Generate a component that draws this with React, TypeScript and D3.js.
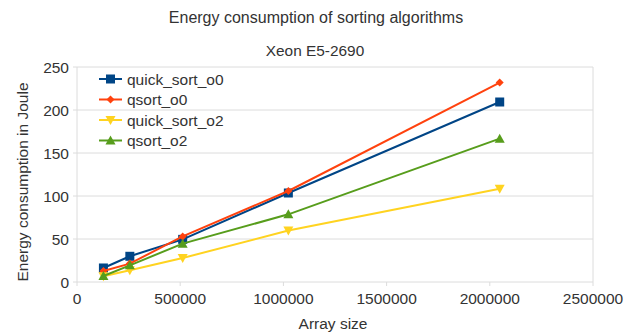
import React from "react";
import * as d3 from "d3";

const arraySizes = [128000, 256000, 512000, 1024000, 2048000];
const quickSortO0 = [16.3, 29.9, 49.6, 103.5, 209.3];
const qsortO0 = [12.8, 21.4, 53, 105.8, 231.9];
const quickSortO2 = [6.6, 13.6, 27.9, 59.8, 108.5];
const qsortO2 = [7, 19.4, 44.6, 78.7, 166.7];
const xTicks = [0, 500000, 1000000, 1500000, 2000000, 2500000];
const yTicks = [0, 50, 100, 150, 200, 250];

const seriesNames = ["quick_sort_o0", "qsort_o0", "quick_sort_o2", "qsort_o2"];
const seriesColors = ["#004586", "#ff420e", "#ffd320", "#579d1c"];
const seriesValues = [quickSortO0, qsortO0, quickSortO2, qsortO2];
const seriesMarkers = ["square", "diamond", "down", "up"];

const W = 634;
const H = 333;
const M = { left: 77, right: 593, top: 67, bottom: 282 };
const FONT = "'Liberation Sans', Arial, sans-serif";
const TEXT = "#333";

function Marker({ kind, x, y, color }: { kind: string; x: number; y: number; color: string }) {
  if (kind === "square") return <rect x={x - 4.5} y={y - 4.5} width={9} height={9} fill={color} />;
  if (kind === "diamond")
    return <path d={`M${x},${y - 4}L${x + 4},${y}L${x},${y + 4}L${x - 4},${y}Z`} fill={color} />;
  if (kind === "down")
    return <path d={`M${x - 5},${y - 4}L${x + 5},${y - 4}L${x},${y + 5}Z`} fill={color} />;
  return <path d={`M${x - 5},${y + 4}L${x + 5},${y + 4}L${x},${y - 5}Z`} fill={color} />;
}

export default function App() {
  const x = d3.scaleLinear().domain([0, 2500000]).range([M.left, M.right]);
  const y = d3.scaleLinear().domain([0, 250]).range([M.bottom, M.top]);
  const line = d3
    .line<number>()
    .x((_, i) => x(arraySizes[i]))
    .y((d) => y(d));

  return (
    <svg
      width={W}
      height={H}
      style={{ position: "absolute", left: 0, top: 0, background: "#fff" }}
      fontFamily={FONT}
    >
      <rect width={W} height={H} fill="#fff" />
      <text x={316} y={23} textAnchor="middle" fontSize={16} fill={TEXT}>
        Energy consumption of sorting algorithms
      </text>
      <text x={315} y={55.5} textAnchor="middle" fontSize={15.4} fill={TEXT}>
        Xeon E5-2690
      </text>

      {yTicks.map((t) => (
        <g key={`y${t}`}>
          <line x1={M.left} x2={M.right} y1={y(t)} y2={y(t)} stroke="#dcdcdc" strokeWidth={1} />
          <line x1={M.left - 4} x2={M.left} y1={y(t)} y2={y(t)} stroke="#dcdcdc" />
          <text x={M.left - 8} y={y(t) + 5.5} textAnchor="end" fontSize={15.5} fill={TEXT}>
            {t}
          </text>
        </g>
      ))}
      <line x1={M.left} x2={M.left} y1={M.top} y2={M.bottom} stroke="#dcdcdc" />
      <line x1={M.right} x2={M.right} y1={M.top} y2={M.bottom} stroke="#dcdcdc" />
      {xTicks.map((t) => (
        <g key={`x${t}`}>
          <line x1={x(t)} x2={x(t)} y1={M.bottom} y2={M.bottom + 4} stroke="#dcdcdc" />
          <text x={x(t)} y={M.bottom + 21.5} textAnchor="middle" fontSize={15.5} fill={TEXT}>
            {t}
          </text>
        </g>
      ))}

      <text x={333} y={329} textAnchor="middle" fontSize={15.5} fill={TEXT}>
        Array size
      </text>
      <text
        transform={`translate(27.5,182) rotate(-90)`}
        textAnchor="middle"
        fontSize={15.5}
        fill={TEXT}
      >
        Energy consumption in Joule
      </text>

      {seriesValues.map((vals, s) => (
        <g key={seriesNames[s]}>
          <path d={line(vals) ?? ""} fill="none" stroke={seriesColors[s]} strokeWidth={2} />
          {vals.map((v, i) => (
            <Marker key={i} kind={seriesMarkers[s]} x={x(arraySizes[i])} y={y(v)} color={seriesColors[s]} />
          ))}
        </g>
      ))}

      {seriesNames.map((name, s) => {
        const ly = 79 + s * 20.5;
        return (
          <g key={`leg${name}`}>
            <line x1={99} x2={122} y1={ly} y2={ly} stroke={seriesColors[s]} strokeWidth={2} />
            <Marker kind={seriesMarkers[s]} x={110.5} y={ly} color={seriesColors[s]} />
            <text x={127} y={ly + 5.5} fontSize={15.5} fill={TEXT}>
              {name}
            </text>
          </g>
        );
      })}
    </svg>
  );
}
